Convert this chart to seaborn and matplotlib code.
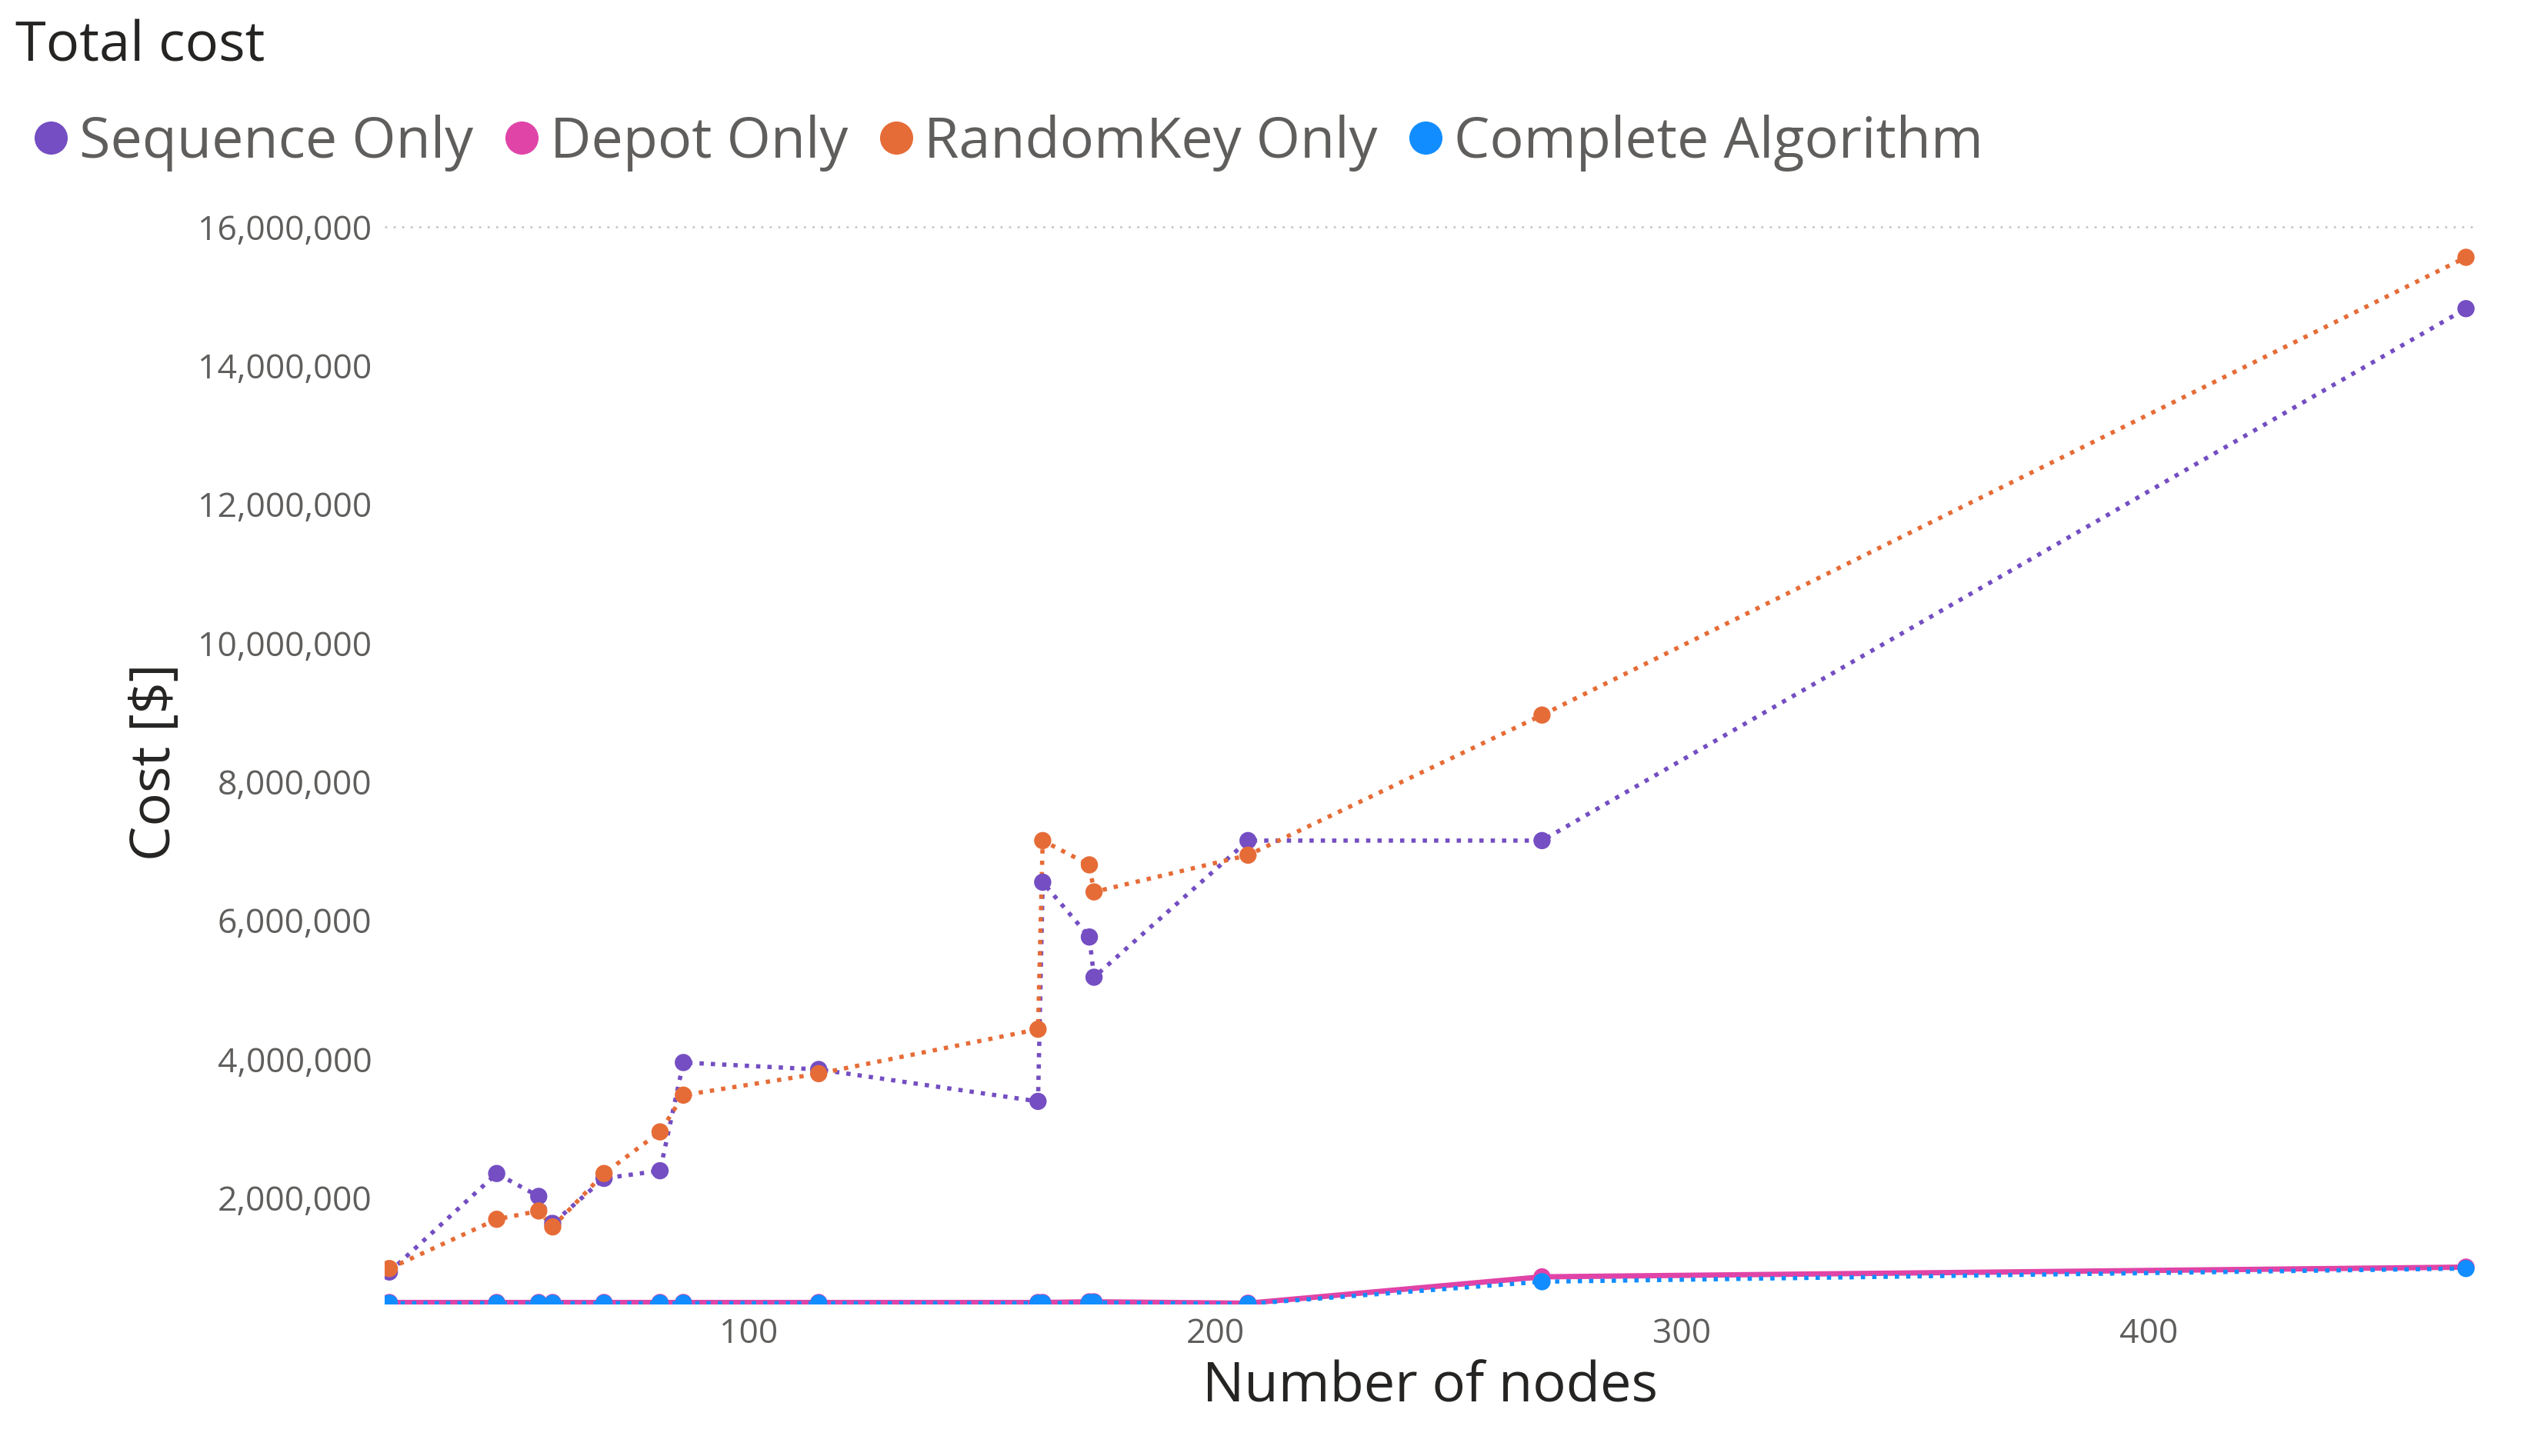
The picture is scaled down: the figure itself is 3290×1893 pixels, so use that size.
import numpy as np
import pandas as pd
import matplotlib
matplotlib.use("Agg")
import matplotlib.pyplot as plt
import seaborn as sns
from matplotlib.ticker import FuncFormatter
from matplotlib.lines import Line2D

sns.set_theme(style="white")
plt.rcParams['font.family'] = ['Open Sans', 'DejaVu Sans']

nodes = [23, 46, 55, 58, 69, 81, 86, 115, 162, 163, 173, 174, 207, 270, 468]
sequence_only = [0.93e6, 2.35e6, 2.02e6, 1.63e6, 2.28e6, 2.39e6, 3.95e6, 3.85e6,
                 3.39e6, 6.55e6, 5.76e6, 5.18e6, 7.15e6, 7.15e6, 14.82e6]
randomkey_only = [0.98e6, 1.69e6, 1.81e6, 1.58e6, 2.35e6, 2.95e6, 3.48e6, 3.79e6,
                  4.43e6, 7.15e6, 6.80e6, 6.41e6, 6.94e6, 8.96e6, 15.56e6]
depot_only = [0.49e6, 0.49e6, 0.49e6, 0.49e6, 0.49e6, 0.49e6, 0.49e6, 0.49e6,
              0.49e6, 0.49e6, 0.50e6, 0.50e6, 0.48e6, 0.86e6, 1.00e6]
complete_alg = [0.48e6, 0.48e6, 0.48e6, 0.48e6, 0.48e6, 0.48e6, 0.48e6, 0.48e6,
                0.48e6, 0.48e6, 0.49e6, 0.49e6, 0.47e6, 0.79e6, 0.98e6]

series = [
    ("Sequence Only", sequence_only, "#744EC2", ":"),
    ("Depot Only", depot_only, "#E044A7", "-"),
    ("RandomKey Only", randomkey_only, "#E66C37", ":"),
    ("Complete Algorithm", complete_alg, "#118DFF", ":"),
]

fig = plt.figure(figsize=(32.9, 18.93), dpi=100)
ax = fig.add_axes([0.152, 0.104, 0.826, 0.745])

draw_order = [1, 0, 2, 3]
for i in draw_order:
    name, vals, col, ls = series[i]
    df = pd.DataFrame({"x": nodes, "y": vals})
    lw = 5 if ls == "-" else 4
    sns.lineplot(data=df, x="x", y="y", ax=ax, color=col, linestyle=ls,
                 linewidth=lw, sort=False, estimator=None)
    ax.scatter(nodes, vals, color=col, s=260, zorder=3, edgecolor="none")

ax.set_xlim(22, 470)
ax.set_ylim(0.46e6, 16.1e6)
ax.set_yticks(np.arange(2e6, 16.1e6, 2e6))
ax.set_xticks([100, 200, 300, 400])
ax.yaxis.set_major_formatter(FuncFormatter(lambda v, p: f"{v:,.0f}"))
ax.axhline(16e6, color="#c8c8c8", linestyle=(0, (1, 3)), linewidth=2, zorder=0)
for s in ax.spines.values():
    s.set_visible(False)
ax.tick_params(axis="both", labelsize=32, colors="#605E5C", length=0, pad=12)
ax.set_xlabel("Number of nodes", fontsize=52, color="#252423", labelpad=8)
ax.set_ylabel("Cost [$]", fontsize=52, color="#252423", labelpad=14)

fig.text(0.006, 0.987, "Total cost", fontsize=52, color="#252423", va="top")
handles = [Line2D([], [], marker="o", linestyle="none", color=c, markersize=30)
           for _, _, c, _ in series]
fig.legend(handles, [s[0] for s in series], loc="upper left",
           bbox_to_anchor=(0.0, 0.937), ncol=4, frameon=False, fontsize=53,
           handletextpad=0.0, columnspacing=0.35, labelcolor="#605E5C",
           borderaxespad=0, handlelength=1.0)

fig.savefig("out.png", dpi=100)
